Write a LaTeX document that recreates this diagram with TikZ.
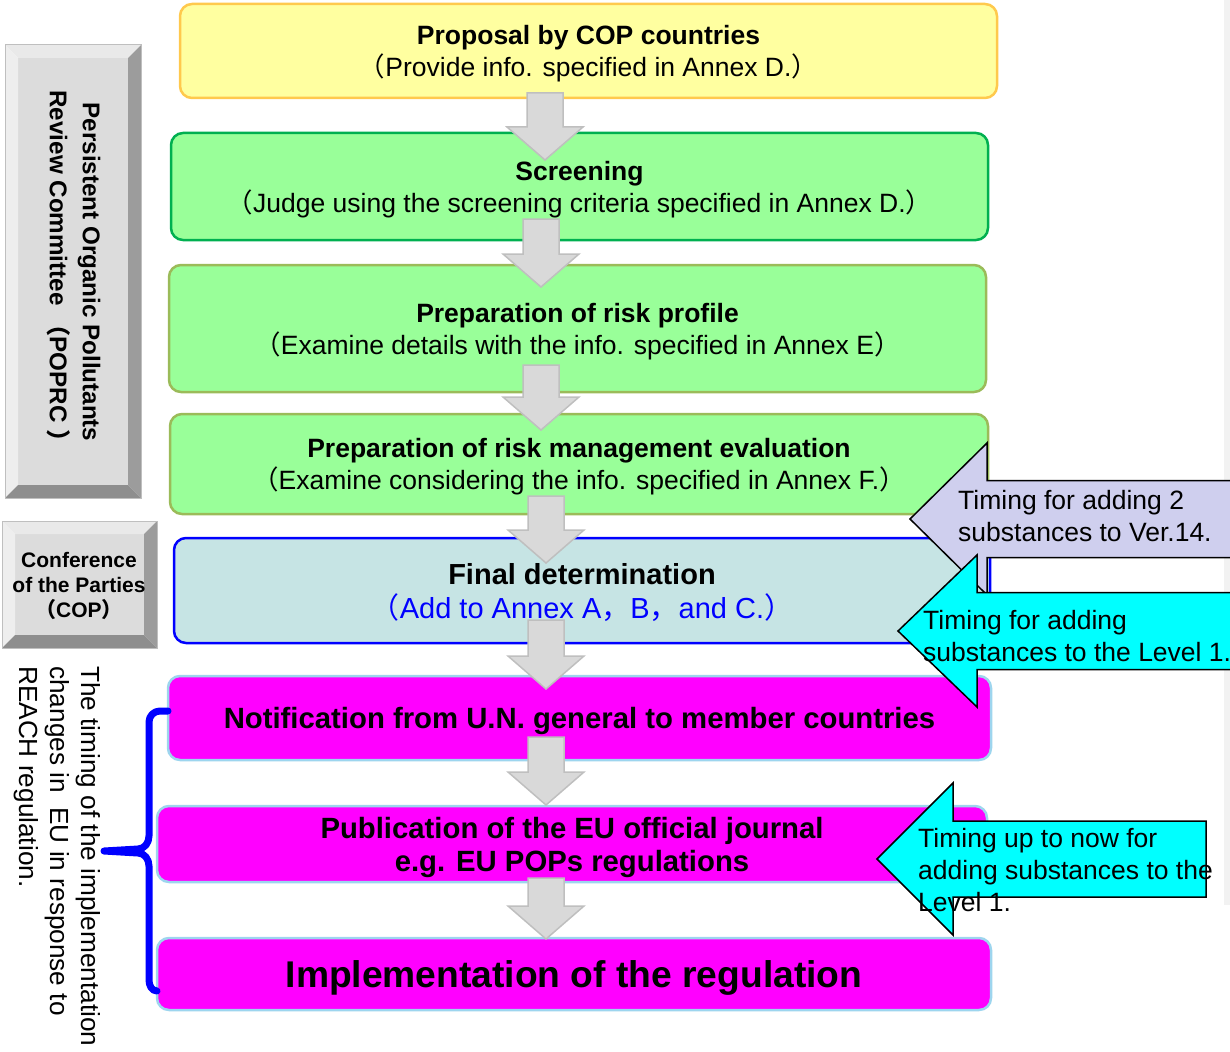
\documentclass[tikz,border=0pt]{standalone}
\usepackage{fontspec}
\setmainfont{Liberation Sans}
\newfontfamily\cjk{Noto Sans CJK JP}
\newcommand{\zlp}{{\cjk （}}
\newcommand{\zrp}{{\cjk ）}}
\newcommand{\zcm}{{\cjk ，}}
\definecolor{yelfill}{HTML}{FFFFA0}
\definecolor{yelline}{HTML}{FFC94D}
\definecolor{grnfill}{HTML}{99FF99}
\definecolor{grnline}{HTML}{00B050}
\definecolor{olvline}{HTML}{9BBB59}
\definecolor{finfill}{HTML}{C6E4E4}
\definecolor{magfill}{HTML}{FF00FF}
\definecolor{magline}{HTML}{9DD5EE}
\definecolor{arrfill}{HTML}{D9D9D9}
\definecolor{arrline}{HTML}{BFBFBF}
\definecolor{lavfill}{HTML}{CFCFEE}
\definecolor{cyanfill}{HTML}{00FFFF}
\definecolor{bvface}{HTML}{DCDCDC}
\definecolor{bvtop}{HTML}{E9E9E9}
\definecolor{bvleft}{HTML}{EEEEEE}
\definecolor{bvright}{HTML}{9C9C9C}
\definecolor{bvbottom}{HTML}{8E8E8E}
\definecolor{stripgray}{HTML}{F2F2F2}
\newcommand{\garrow}[3]{%
  \draw[garrowstyle] (#1-18,#2) -- (#1+18,#2) -- (#1+18,#3-33) -- (#1+38,#3-33)
    -- (#1,#3) -- (#1-38,#3-33) -- (#1-18,#3-33) -- cycle;}
\newcommand{\larrow}[7]{%
  \draw[larrowstyle, fill=#1] (#2,#3) -- (#4,#3-#6) -- (#4,#3-#5) -- (#7,#3-#5)
    -- (#7,#3+#5) -- (#4,#3+#5) -- (#4,#3+#6) -- cycle;}
\newcommand{\bevelbox}[5]{%
  \fill[bvface] (#1+#5,#2+#5) rectangle (#3-#5,#4-#5);
  \fill[bvtop] (#1,#2) -- (#3,#2) -- (#3-#5,#2+#5) -- (#1+#5,#2+#5) -- cycle;
  \fill[bvleft] (#1,#2) -- (#1+#5,#2+#5) -- (#1+#5,#4-#5) -- (#1,#4) -- cycle;
  \fill[bvright] (#3,#2) -- (#3,#4) -- (#3-#5,#4-#5) -- (#3-#5,#2+#5) -- cycle;
  \fill[bvbottom] (#1,#4) -- (#3,#4) -- (#3-#5,#4-#5) -- (#1+#5,#4-#5) -- cycle;
  \draw[arrline, line width=1pt] (#1,#2) rectangle (#3,#4);}
\tikzset{
  box/.style={rounded corners=12pt, line width=2.5pt, align=center, inner sep=0pt, text depth=-2.5pt},
  garrowstyle/.style={fill=arrfill, draw=arrline, line width=1.5pt, line join=miter},
  larrowstyle/.style={draw=black, line width=1.5pt, line join=miter},
  body/.style={font=\fontsize{26.5}{32}\selectfont},
  note/.style={font=\fontsize{26.5}{32}\selectfont, align=left, inner sep=0pt, anchor=west},
}
\begin{document}
\begin{tikzpicture}[x=1pt,y=-1pt]
\useasboundingbox (0,0) rectangle (1230,1051);
\fill[stripgray] (1224,0) rectangle (1230,905);

% main boxes
\node[box, fill=yelfill, draw=yelline, minimum width=817, minimum height=94, body] (prop) at (588.5,51)
  {{\fontsize{26.5}{32}\selectfont\bfseries Proposal by COP countries}\\\zlp Provide info. specified in Annex D.\zrp};
\node[box, fill=grnfill, draw=grnline, minimum width=817, minimum height=107, body] (scr) at (579.5,186.5)
  {{\fontsize{26.5}{32}\selectfont\bfseries Screening}\\\zlp Judge using the screening criteria specified in Annex D.\zrp};
\node[box, fill=grnfill, draw=olvline, minimum width=817, minimum height=127, body] (risk) at (577.5,328.5)
  {{\fontsize{26.5}{33}\selectfont\bfseries Preparation of risk profile}\\\zlp Examine details with the info. specified in Annex E\zrp};
\node[box, fill=grnfill, draw=olvline, minimum width=818, minimum height=100, body] (mgmt) at (579,464)
  {{\fontsize{26.5}{32}\selectfont\bfseries Preparation of risk management evaluation}\\\zlp Examine considering the info. specified in Annex F.\zrp};
\node[box, fill=finfill, draw=blue, minimum width=816, minimum height=105, font=\fontsize{29}{34}\selectfont] (fin) at (582,590.5)
  {{\fontsize{29}{34}\selectfont\bfseries Final determination}\\\textcolor{blue}{\zlp Add to Annex A\zcm B\zcm and C.\zrp}};
\node[box, fill=magfill, draw=magline, minimum width=823, minimum height=84, font=\fontsize{29.3}{34}\selectfont\bfseries] (notif) at (579.5,718)
  {Notification from U.N. general to member countries};
\node[box, fill=magfill, draw=magline, minimum width=830, minimum height=76, font=\fontsize{29.3}{33}\selectfont\bfseries] (pub) at (572,844)
  {Publication of the EU official journal\\e.g. EU POPs regulations};
\node[box, fill=magfill, draw=magline, minimum width=834, minimum height=72, font=\fontsize{37.2}{40}\selectfont\bfseries] (impl) at (574,974)
  {Implementation of the regulation};

% gray down arrows
\garrow{545}{93}{160}
\garrow{541}{219}{287}
\garrow{541}{365}{430}
\garrow{546}{496}{563}
\garrow{546}{620}{689}
\garrow{546}{737}{805}
\garrow{546}{878}{939}

% left block arrows
\larrow{lavfill}{910}{519}{987}{38.5}{76}{1232}
\node[note] (t14) at (958,516) {Timing for adding 2\\substances to Ver.14.};
\larrow{cyanfill}{898}{631}{977}{38.5}{76}{1232}
\node[note] (tl1) at (923,636) {Timing for adding\\substances to the Level 1.};
\larrow{cyanfill}{877}{859}{953}{38}{76}{1206}
\node[note] (tnow) at (918,870) {Timing up to now for\\adding substances to the\\Level 1.};

% left bevel boxes
\bevelbox{5}{45}{141}{498}{13}
\node[rotate=-90, align=center, inner sep=0pt, font=\fontsize{24.2}{33}\selectfont\bfseries] (poprc) at (74,272)
  {Persistent Organic Pollutants\\Review Committee {\cjk\bfseries （}POPRC {\cjk\bfseries ）}};
\bevelbox{2}{521}{157}{648}{13}
\node[align=center, inner sep=0pt, font=\fontsize{21}{25}\selectfont\bfseries] (cop) at (79,586)
  {Conference\\of the Parties\\{\cjk\bfseries （}COP{\cjk\bfseries ）}};

% bracket
\coordinate (btop) at (168,711);
\coordinate (bbot) at (157,991);
\draw[blue, line width=7pt, line cap=round, line join=round]
  (btop) -- (160,711) to[out=180,in=90] (149,722) -- (149,836)
  to[out=-90,in=0] (138,849) -- (104,851) -- (138,853)
  to[out=0,in=90] (149,866) -- (149,980) to[out=-90,in=180] (bbot);

% rotated explanation
\node[rotate=-90, anchor=north west, align=left, inner sep=0pt, font=\fontsize{26.2}{31}\selectfont] (expl) at (101,666)
  {The timing of the implementation\\changes in~ EU in response to\\REACH regulation.};
\end{tikzpicture}
\end{document}
